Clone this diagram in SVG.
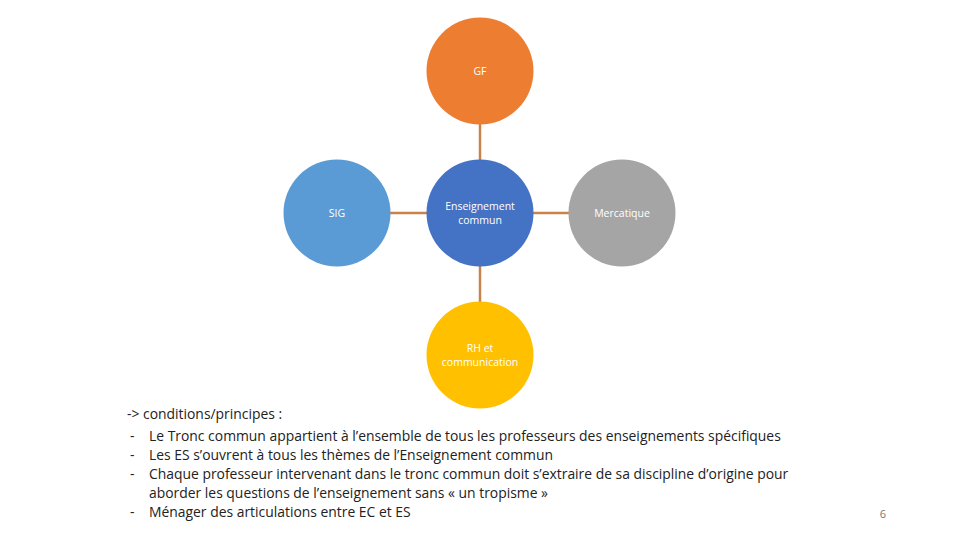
<svg xmlns="http://www.w3.org/2000/svg" width="960" height="540" viewBox="0 0 960 540">
<style>
.n text{font-family:"Open Sans","Liberation Sans",sans-serif;font-size:10.5px;fill:#fff;text-anchor:middle}
.c line{stroke:#C9834A;stroke-width:2.5}
.t{font-family:"Open Sans","Liberation Sans",sans-serif;font-size:13.9px;fill:#222}
</style>
<rect width="960" height="540" fill="#fff"/>
<g class="c">
<line x1="480" y1="124" x2="480" y2="160"/>
<line x1="390" y1="213" x2="427" y2="213"/>
<line x1="533" y1="213" x2="569" y2="213"/>
<line x1="480" y1="266" x2="480" y2="302"/>
</g>
<g id="gf" class="n"><circle cx="480" cy="71" r="53.5" fill="#ED7D31"/><text x="480" y="75">GF</text></g>
<g id="sig" class="n"><circle cx="337" cy="213" r="53.5" fill="#5B9BD5"/><text x="337" y="217">SIG</text></g>
<g id="ec" class="n"><circle cx="480" cy="213" r="53.5" fill="#4472C4"/><text x="480" y="210">Enseignement</text><text x="480" y="224">commun</text></g>
<g id="merc" class="n"><circle cx="622" cy="213" r="53.5" fill="#A5A5A5"/><text x="622" y="217">Mercatique</text></g>
<g id="rh" class="n"><circle cx="480" cy="355" r="53.5" fill="#FFC000"/><text x="480" y="352">RH et</text><text x="480" y="366">communication</text></g>
<g class="t">
<text x="127" y="419">-&gt; conditions/principes :</text>
<text x="130" y="441">-</text><text x="149" y="441">Le Tronc commun appartient à l’ensemble de tous les professeurs des enseignements spécifiques</text>
<text x="130" y="460">-</text><text x="149" y="460">Les ES s’ouvrent à tous les thèmes de l’Enseignement commun</text>
<text x="130" y="479">-</text><text x="149" y="479">Chaque professeur intervenant dans le tronc commun  doit s’extraire de sa discipline d’origine pour</text>
<text x="149" y="498">aborder les questions de l’enseignement sans « un tropisme »</text>
<text x="130" y="517">-</text><text x="149" y="517">Ménager des articulations entre EC et ES</text>
</g>
<text x="883" y="518" font-family="Open Sans, Liberation Sans, sans-serif" font-size="11" fill="#777" text-anchor="middle">6</text>
</svg>
